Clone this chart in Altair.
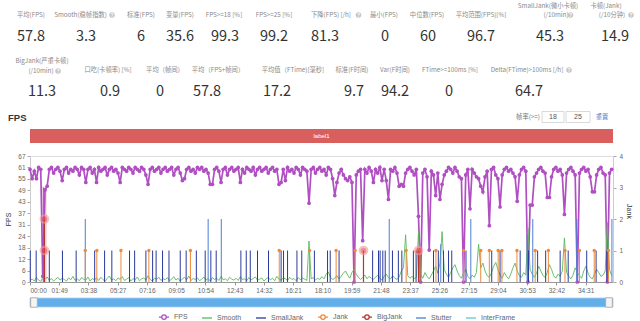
import altair as alt
import pandas as pd

# ---------------- data ----------------
series_names = ["FPS", "Smooth", "SmallJank", "Jank", "BigJank", "Stutter", "InterFrame"]
series_colors = ["#b04fc2", "#5cb85c", "#2a3a9c", "#ef8a3a", "#b8342c", "#4a7fd6", "#5ec6dc"]

fps_step = 8  # seconds between FPS samples
fps_values = [
    60, 55, 59, 55, 61, 60, 3, 49, 51, 60, 61, 58, 60, 61, 59, 54,
    60, 61, 58, 60, 59, 61, 60, 57, 61, 60, 53, 60, 61, 58, 60, 53,
    61, 59, 60, 61, 57, 60, 61, 59, 60, 58, 53, 61, 60, 59, 61, 60,
    58, 61, 60, 59, 61, 60, 57, 52, 60, 61, 59, 60, 61, 58, 60, 61,
    59, 60, 61, 57, 60, 61, 58, 54, 55, 60, 61, 59, 60, 58, 61, 60,
    61, 59, 60, 58, 52, 52, 60, 61, 59, 53, 60, 61, 57, 60, 61, 59,
    60, 61, 53, 60, 58, 61, 60, 59, 61, 57, 60, 61, 59, 60, 61, 58,
    60, 61, 59, 60, 52, 53, 60, 54, 61, 59, 60, 58, 61, 60, 57, 61,
    60, 59, 42, 60, 61, 58, 60, 61, 59, 60, 57, 61, 60, 55, 46, 53,
    58, 60, 57, 55, 54, 56, 53, 0, 57, 59, 60, 22, 60, 58, 61, 59,
    53, 60, 58, 61, 54, 60, 54, 44, 60, 59, 61, 58, 51, 52, 51, 58,
    60, 61, 59, 57, 60, 35, 0, 58, 60, 56, 17, 59, 57, 46, 58, 44,
    52, 57, 59, 61, 60, 58, 61, 59, 56, 55, 0, 57, 60, 39, 60, 58,
    56, 55, 51, 48, 56, 59, 30, 60, 61, 57, 55, 40, 57, 60, 61, 59,
    60, 58, 56, 43, 57, 60, 61, 59, 0, 41, 41, 56, 58, 60, 61, 59,
    58, 45, 45, 56, 60, 61, 59, 60, 57, 36, 58, 60, 61, 59, 57, 0,
    58, 60, 61, 59, 60, 56, 48, 48, 57, 60, 61, 58, 57, 0, 58, 60,
]

smooth_step = 8  # seconds between Smooth samples
smooth_values = [
    0.04, 0.10, 0.03, 0.14, 0.06, 0.02, 0.12, 0.08, 0.16, 0.05, 0.11, 0.03, 0.09, 0.15, 0.06, 0.12,
    0.08, 0.03, 0.13, 0.07, 0.18, 0.05, 0.10, 0.04, 0.14, 0.09, 0.06, 0.16, 0.03, 0.11, 0.07, 0.13,
    0.05, 0.15, 0.08, 0.02, 0.12, 0.19, 0.06, 0.10, 0.04, 0.13, 0.08, 0.17, 0.05, 0.09, 0.14, 0.03,
    0.11, 0.07, 0.16, 0.04, 0.10, 0.13, 0.06, 0.20, 0.08, 0.03, 0.12, 0.09, 0.15, 0.05, 0.11, 0.07,
    0.14, 0.04, 0.09, 0.17, 0.06, 0.12, 0.03, 0.10, 0.15, 0.07, 0.19, 0.05, 0.11, 0.08, 0.13, 0.04,
    0.09, 0.16, 0.06, 0.11, 0.03, 0.14, 0.08, 0.12, 0.05, 0.18, 0.07, 0.10, 0.04, 0.15, 0.09, 0.06,
    0.12, 0.05, 0.17, 0.08, 0.10, 0.04, 0.14, 0.07, 0.11, 0.16, 0.06, 0.09, 0.13, 0.03, 0.10, 0.15,
    0.07, 0.12, 0.04, 0.18, 0.09, 0.06, 0.13, 0.10, 0.05, 0.15, 0.08, 0.11, 0.04, 0.14, 0.07, 0.12,
    0.09, 0.05, 1.30, 0.10, 0.14, 0.06, 0.12, 0.08, 0.17, 0.10, 0.25, 0.32, 0.15, 0.08, 0.12, 0.20,
    0.10, 0.18, 0.28, 0.35, 0.22, 0.12, 0.30, 0.40, 0.25, 0.15, 0.08, 0.14, 0.22, 0.10, 0.18, 0.12,
    0.08, 0.15, 0.22, 0.12, 0.06, 0.18, 0.25, 0.14, 0.10, 0.20, 0.12, 0.08, 0.16, 0.35, 0.45, 1.50,
    0.20, 0.12, 0.18, 0.10, 0.15, 1.60, 0.25, 0.12, 0.30, 0.18, 0.10, 0.22, 0.35, 0.50, 0.28, 0.60,
    1.60, 0.40, 0.25, 0.15, 0.30, 0.45, 0.55, 0.35, 0.20, 0.12, 0.28, 0.40, 0.18, 0.10, 0.22, 0.15,
    0.30, 1.20, 0.45, 0.60, 0.35, 0.20, 0.15, 0.28, 0.50, 0.62, 0.40, 0.22, 0.12, 0.30, 0.18, 0.10,
    0.25, 0.45, 0.60, 0.35, 0.20, 0.15, 0.30, 0.22, 1.70, 0.40, 0.25, 0.15, 0.28, 0.50, 0.35, 0.20,
    0.15, 0.30, 0.55, 0.40, 0.20, 0.12, 0.25, 0.18, 0.35, 1.40, 0.30, 0.18, 0.10, 0.22, 0.45, 0.30,
    0.20, 0.12, 0.35, 0.50, 0.28, 0.15, 0.10, 0.25, 0.40, 0.30, 0.18, 0.22, 0.35, 1.90, 0.40, 0.20,
]

smalljank_times = [1, 23, 72, 121, 172, 241, 278, 305, 371, 390, 432, 457, 470, 494, 518, 560,
                   582, 620, 653, 674, 694, 786, 806, 821, 848, 889, 936, 945, 960, 995, 1013,
                   1060, 1109, 1119, 1152, 1277, 1299, 1305, 1315, 1324, 1351, 1373, 1386, 1429,
                   1439, 1454, 1504, 1522, 1541, 1560, 1572, 1625, 1721, 1752, 1827, 1858, 1892,
                   1922, 1976, 2006, 2075, 2110, 2150]
smalljank_level = 1
stutter_times = [50, 206, 664, 713, 1339, 1531, 1643, 1853, 1874, 2038, 2169]
stutter_levels = [3, 2, 2, 2, 2, 1.2, 2, 1.5, 2, 2, 2]
jank_times = [206, 249, 339, 443, 598, 929, 1042, 1141, 1212, 1402, 1454, 1513, 1616, 1680,
              1712, 1745, 1759, 1815, 1883, 1932, 1994, 2048, 2103, 2156]
jank_level = 1
bigjank_times = [54, 1243, 1448]
bigjank_levels = [2, 1, 1]
bigjank_mark_times = [54, 54, 1243, 1448]
bigjank_mark_levels = [2, 1, 1, 1]
gap_start, gap_end, gap_top = 41, 63, 51
session_start, session_end = 0, 2173
session_label = "label1"

time_ticks = [0, 109, 218, 327, 436, 545, 654, 763, 872, 981, 1090, 1199, 1308, 1417,
              1526, 1635, 1744, 1853, 1962, 2071]
fps_ticks = [0, 6.1, 12.2, 18.3, 24.4, 30.5, 36.6, 42.7, 48.8, 54.9, 61, 67.1]
jank_ticks = [0, 1, 2, 3, 4]

row1_labels = ["平均(FPS)", "Smooth(稳帧指数)", "标准(FPS)", "变量(FPS)", "FPS>=18 [%]",
               "FPS>=25 [%]", "下降(FPS) [/h]", "最小(FPS)", "中位数(FPS)", "平均范围(FPS)[%]",
               "SmallJank(微小卡顿)", "(/10min)", "卡顿(Jank)", "(/10分钟)"]
row1_values = [57.8, 3.3, 6, 35.6, 99.3, 99.2, 81.3, 0, 60, 96.7, 45.3, 14.9]
row2_labels = ["BigJank(严重卡顿)", "(/10min)", "口吃(卡顿率) [%]", "平均（帧间）", "平均（FPS+帧间）",
               "平均值（FTime)[毫秒]", "标准(F时间)", "Var(F时间)", "FTime>=100ms [%]",
               "Delta(FTime)>100ms [/h]"]
row2_values = [11.3, 0.9, 0, 57.8, 17.2, 9.7, 94.2, 0, 64.7]
section_title = "FPS"
threshold_caption = "帧率(>=)"
threshold_values = [18, 25]
reset_caption = "重置"

# ---------------- layout (page pixels) ----------------
W, H = 640, 321
L, T, R, B = 30, 156, 27, 39
PW, PH = W - L - R, H - T - B
label_x = [31, 80.5, 141, 180, 224, 274, 331, 384, 427, 481, 548, 556, 606, 612,
           42, 41, 108, 165, 218, 293, 352, 395, 450, 527]
label_y = [15] * 10 + [6, 15, 6, 15] + [61, 71] + [70] * 8
value_x = [31, 86, 141, 180, 225, 274, 325, 385, 428, 481, 550, 615,
           42, 110, 160, 207, 277, 354, 395, 449, 529]
value_y = [36.5] * 12 + [92] * 9
icon_x = [112, 358.5, 570.5, 631, 58, 569]
icon_y = [15, 15, 15, 15, 71, 70]
box_x0 = [542, 566]
box_x1 = [564, 590]

CJK = "Noto Sans CJK SC"
LAT = "Liberation Sans"

# ---------------- tables ----------------
fps_df = pd.DataFrame({"t": [i * fps_step for i in range(len(fps_values))],
                       "fps": fps_values, "series": "FPS"})
smooth_df = pd.DataFrame({"t": [i * smooth_step for i in range(len(smooth_values))],
                          "jank": smooth_values, "series": "Smooth"})
sj_df = pd.DataFrame({"t": smalljank_times, "jank": smalljank_level, "base": 0, "series": "SmallJank"})
st_df = pd.DataFrame({"t": stutter_times, "jank": stutter_levels, "base": 0, "series": "Stutter"})
jk_df = pd.DataFrame({"t": jank_times, "jank": jank_level, "base": 0, "series": "Jank"})
bj_df = pd.DataFrame({"t": bigjank_times, "jank": bigjank_levels, "base": 0, "series": "BigJank"})
bjm_df = pd.DataFrame({"t": bigjank_mark_times, "jank": bigjank_mark_levels})
gap_df = pd.DataFrame({"t": [gap_start], "t2": [gap_end], "fps": [0], "fps2": [gap_top]})
session_df = pd.DataFrame({"t": [session_start], "t2": [session_end],
                           "mid": [(session_start + session_end) / 2], "label": [session_label]})
handle_df = pd.DataFrame({"t": [session_start, session_end], "side": ["l", "r"]})
legend_df = pd.DataFrame({"t": [-1000] * len(series_names), "jank": 0, "series": series_names})

labels_df = pd.DataFrame({"text": row1_labels + row2_labels, "x": label_x, "y": label_y})
values_df = pd.DataFrame({"text": [str(v) for v in row1_values + row2_values], "x": value_x, "y": value_y})
icons_df = pd.DataFrame({"x": icon_x, "y": icon_y, "q": "?"})
boxes_df = pd.DataFrame({"x0": box_x0, "x1": box_x1, "xm": [(a + b) / 2 for a, b in zip(box_x0, box_x1)],
                         "y0": 111.5, "y1": 122.5, "ym": 117,
                         "text": [str(v) for v in threshold_values]})
misc_df = pd.DataFrame({"text": [threshold_caption, reset_caption], "x": [528, 602], "y": [117, 117],
                        "color": ["#777777", "#3a7fd0"]})
title_df = pd.DataFrame({"text": [section_title], "x": [8], "y": [118]})

# ---------------- scales / encodings ----------------
color_scale = alt.Scale(domain=series_names, range=series_colors)
circ = "M-1,0L-0.45,0M0.45,0L1,0M0.45,0A0.45,0.45,0,1,1,-0.45,0A0.45,0.45,0,1,1,0.45,0"
plain = "M-1,0L1,0"
shape_scale = alt.Scale(domain=series_names, range=[circ, plain, plain, circ, circ, plain, plain])
legend_cfg = alt.Legend(orient="none", legendX=128, legendY=155, direction="horizontal", title=None,
                        columnPadding=11, labelOffset=4, symbolSize=100, symbolStrokeWidth=1.3,
                        labelFontSize=7, labelColor="#666", labelFont=LAT, symbolOpacity=1)

x_scale = alt.Scale(domain=[session_start, session_end], nice=False, zero=False)
x_axis = alt.Axis(values=time_ticks, labelExpr="utcFormat(datum.value * 1000, '%M:%S')", title=None,
                  grid=False, labelFlush=True, labelFontSize=6.5, labelColor="#666", labelFont=LAT,
                  tickSize=3, tickColor="#999", domainColor="#999", labelPadding=2, labelOverlap=False)
X = lambda: alt.X("t:Q", scale=x_scale, axis=x_axis)

fps_scale = alt.Scale(domain=[0, 67.1], nice=False, zero=True)
fps_axis = alt.Axis(values=fps_ticks, labelExpr="round(datum.value)", title="FPS", titleFontSize=7,
                    titleFontWeight="normal", titleColor="#333", titleFont=LAT, titleX=-22, titleY=63,
                    titleBaseline="middle", grid=False, labelFontSize=6.5, labelColor="#666",
                    labelFont=LAT, tickSize=3, tickColor="#aaa", domainColor="#ccc", labelPadding=2,
                    orient="left")
jank_scale = alt.Scale(domain=[0, 4], nice=False, zero=True)
jank_axis = alt.Axis(values=jank_ticks, title="Jank", titleFontSize=7, titleFontWeight="normal",
                     titleColor="#333", titleFont=LAT, titleX=15, titleY=55, titleBaseline="middle",
                     grid=False, labelFontSize=6.5, labelColor="#666", labelFont=LAT, tickSize=3,
                     tickColor="#aaa", domainColor="#ccc", labelPadding=3, orient="right")
YF = lambda f="fps": alt.Y(f + ":Q", scale=fps_scale, axis=fps_axis)
YJ = lambda f="jank": alt.Y(f + ":Q", scale=jank_scale, axis=jank_axis)
COLOR = alt.Color("series:N", scale=color_scale, title=None, legend=legend_cfg)

# ---------------- FPS group (left axis) ----------------
gap = alt.Chart(gap_df).mark_rect(color="#e9a3ab", opacity=0.35).encode(
    x=X(), x2="t2:Q", y=YF(), y2="fps2:Q")
fps_line = alt.Chart(fps_df).mark_line(strokeWidth=1.7).encode(x=X(), y=YF(), color=COLOR)
fps_pts = alt.Chart(fps_df).mark_circle(size=14, opacity=1, color=series_colors[0]).encode(x=X(), y=YF())
label_bar = alt.Chart(session_df).mark_rect(color="#d95f5f").encode(
    x=X(), x2="t2:Q", y=alt.value(-27), y2=alt.value(-13))
label_txt = alt.Chart(session_df).mark_text(color="white", fontSize=6, font=LAT).encode(
    x=alt.X("mid:Q", scale=x_scale, axis=x_axis), y=alt.value(-20), text="label:N")
slider = alt.Chart(session_df).mark_rect(color="#62aee9", stroke="#a9cff0", strokeWidth=0.8).encode(
    x=X(), x2="t2:Q", y=alt.value(142), y2=alt.value(151))
handle_l = alt.Chart(handle_df[handle_df.side == "l"]).mark_point(
    shape="M-0.7,-1H0.7V1H-0.7Z", size=90, filled=True, fill="#f4f4f4", stroke="#a8a8a8",
    strokeWidth=0.8, opacity=1, xOffset=4).encode(x=X(), y=alt.value(146.5))
handle_r = alt.Chart(handle_df[handle_df.side == "r"]).mark_point(
    shape="M-0.7,-1H0.7V1H-0.7Z", size=90, filled=True, fill="#f4f4f4", stroke="#a8a8a8",
    strokeWidth=0.8, opacity=1, xOffset=-4).encode(x=X(), y=alt.value(146.5))
fps_group = alt.layer(label_bar, label_txt, slider, handle_l, handle_r, gap, fps_line, fps_pts)

# ---------------- Jank group (right axis) ----------------
smooth_line = alt.Chart(smooth_df).mark_line(strokeWidth=0.9).encode(x=X(), y=YJ(), color=COLOR)
sj_rules = alt.Chart(sj_df).mark_rule(strokeWidth=1).encode(x=X(), y=YJ(), y2="base:Q", color=COLOR)
jk_rules = alt.Chart(jk_df).mark_rule(strokeWidth=1).encode(x=X(), y=YJ(), y2="base:Q", color=COLOR)
jk_pts = alt.Chart(jk_df).mark_circle(size=12, opacity=1, color=series_colors[3]).encode(x=X(), y=YJ())
st_rules = alt.Chart(st_df).mark_rule(strokeWidth=1).encode(x=X(), y=YJ(), y2="base:Q", color=COLOR)
bj_rules = alt.Chart(bj_df).mark_rule(strokeWidth=1.2).encode(x=X(), y=YJ(), y2="base:Q", color=COLOR)
bj_marks = alt.Chart(bjm_df).mark_circle(size=60, color="#e5484d", opacity=0.6,
                                         stroke="#f19a9a", strokeWidth=2).encode(x=X(), y=YJ())
legend_layer = alt.Chart(legend_df).mark_point(clip=True, filled=False).encode(
    x=X(), y=YJ(), color=COLOR,
    shape=alt.Shape("series:N", scale=shape_scale, title=None, legend=legend_cfg))
jank_group = alt.layer(smooth_line, sj_rules, st_rules, jk_rules, jk_pts, bj_rules, bj_marks, legend_layer)

main = alt.layer(fps_group, jank_group).resolve_scale(y="independent")

# ---------------- header (page-pixel layout) ----------------
PX = alt.Scale(domain=[0, W], range=[-L, W - L], nice=False, zero=False)
PY = alt.Scale(domain=[0, H], range=[-T, H - T], nice=False, zero=False)
hx = lambda f="x": alt.X(f + ":Q", scale=PX, axis=None)
hy = lambda f="y": alt.Y(f + ":Q", scale=PY, axis=None)

labels = alt.Chart(labels_df).mark_text(font=CJK, fontSize=6.3, color="#8a8a8a", baseline="middle").encode(
    x=hx(), y=hy(), text="text:N")
values = alt.Chart(values_df).mark_text(font=CJK, fontSize=14.5, color="#333", baseline="middle").encode(
    x=hx(), y=hy(), text="text:N")
icon_c = alt.Chart(icons_df).mark_circle(size=30, color="#c4c4c4", opacity=1).encode(x=hx(), y=hy())
icon_t = alt.Chart(icons_df).mark_text(font=LAT, fontSize=5, fontWeight="bold", color="white",
                                       baseline="middle").encode(x=hx(), y=hy(), text="q:N")
title = alt.Chart(title_df).mark_text(font=LAT, fontSize=9.5, fontWeight="bold", color="#333",
                                      align="left", baseline="middle").encode(x=hx(), y=hy(), text="text:N")
misc = alt.Chart(misc_df).mark_text(font=CJK, fontSize=6.3, baseline="middle").encode(
    x=hx(), y=hy(), text="text:N", color=alt.Color("color:N", scale=None))
boxes = alt.Chart(boxes_df).mark_rect(fill="white", stroke="#cfcfcf", strokeWidth=0.8).encode(
    x=hx("x0"), x2="x1:Q", y=hy("y0"), y2="y1:Q")
box_txt = alt.Chart(boxes_df).mark_text(font=LAT, fontSize=7, color="#555", baseline="middle").encode(
    x=hx("xm"), y=hy("ym"), text="text:N")

chart = alt.layer(main, labels, values, icon_c, icon_t, title, misc, boxes, box_txt).resolve_scale(
    x="independent", y="independent"
).properties(
    width=PW, height=PH,
    padding={"left": L, "top": T, "right": R, "bottom": B},
    autosize=alt.AutoSizeParams(type="none"),
).configure_view(stroke=None).configure(background="white")

chart.save("out.html", embed_options={"renderer": "svg", "actions": False})
